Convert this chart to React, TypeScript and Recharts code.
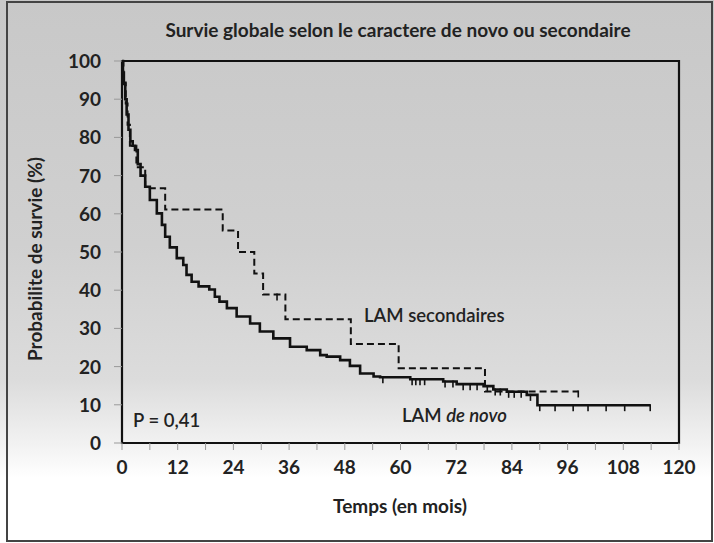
import { LineChart, Line, XAxis, YAxis, ReferenceArea } from "recharts";

// LAM de novo: steps (time in months, survival %)
const deNovoTime = [
  0, 0.2, 0.4, 0.7, 1, 1.4, 1.8, 2.3, 2.8, 3.4, 4, 5, 6, 7.5, 8.6, 9.3, 10.3,
  11.8, 13.2, 13.9, 15, 16.5, 18.8, 20, 21, 22.6, 24.7, 27.6, 29.7, 32.6, 36.2,
  39.8, 42.7, 44.1, 47, 49.1, 51.3, 54.2, 55.6, 62.1, 69.2, 72.1, 77.9, 80,
  82.9, 87.2, 89.5,
];
const deNovoSurv = [
  100, 97, 94, 90, 86, 82, 79, 77.8, 76.7, 73, 70, 67.1, 63.6, 60.1, 57.1, 54,
  51.2, 48.4, 46.6, 44, 42.2, 41, 40.2, 38.3, 37, 35.3, 33.1, 31.3, 29.2, 27.4,
  25.2, 24.3, 23, 22.6, 21.7, 20.2, 18.2, 17.4, 17.2, 16.7, 16.1, 15.4, 14.9,
  14, 13.4, 12.6, 9.9,
];
const deNovoCensor = [
  56.2, 62.5, 63.3, 64.2, 65.2, 69.6, 71.3, 73.5, 75, 76.5, 78.7, 80.4, 81.5,
  83.3, 84.5, 86, 88, 90, 93.3, 97.2, 100.4, 104.3, 108.3, 113.8,
];

// LAM secondaires
const secTime = [0, 0.3, 0.8, 1.2, 1.7, 3.1, 5, 9.3, 21.7, 25, 28.5, 30.4, 35.2, 49.3, 59.6, 78.2];
const secSurv = [100, 94.4, 88.9, 83.3, 77.8, 72.2, 66.7, 61.1, 55.6, 50, 44.4, 38.9, 32.4, 25.9, 19.6, 13.5];
const secCensor = [33.4, 98.3];

const xTicks = [0, 6, 12, 18, 24, 30, 36, 42, 48, 54, 60, 66, 72, 78, 84, 90, 96, 102, 108, 114, 120];
const yTicks = [0, 10, 20, 30, 40, 50, 60, 70, 80, 90, 100];

const FONT = "Lato, 'Open Sans', sans-serif";

function buildSeries(times: number[], surv: number[], censor: number[]) {
  const rows = times.map((t, i) => ({ t, s: surv[i], c: false }));
  censor.forEach((t) => {
    let s = surv[0];
    times.forEach((tt, i) => {
      if (tt <= t) s = surv[i];
    });
    rows.push({ t, s, c: true });
  });
  return rows.sort((a, b) => a.t - b.t);
}

const deNovoData = buildSeries(deNovoTime, deNovoSurv, deNovoCensor);
const secData = buildSeries(secTime, secSurv, secCensor);

const CensorDot = (props: any) => {
  const { cx, cy, payload } = props;
  if (!payload?.c || cx == null) return <g />;
  return <line x1={cx} x2={cx} y1={cy - 1} y2={cy + 6} stroke="#111" strokeWidth={1.6} />;
};

const XTick = (props: any) => {
  const { x, y, payload } = props;
  if (payload.value % 12 !== 0) return <g />;
  return (
    <text x={x} y={y + 22} textAnchor="middle" fontFamily={FONT} fontWeight={700} fontSize={19} fill="#222">
      {payload.value}
    </text>
  );
};

const YTick = (props: any) => {
  const { x, y, payload } = props;
  return (
    <text x={x} y={y + 7} textAnchor="end" fontFamily={FONT} fontWeight={700} fontSize={19} fill="#222">
      {payload.value}
    </text>
  );
};

export default function App() {
  return (
    <div
      style={{
        position: "relative",
        width: 714,
        height: 543,
        background: "linear-gradient(#c8c8c8 0%, #d0d0d0 45%, #dcdcdc 70%, #f2f2f2 82%, #ffffff 88%)",
        fontFamily: FONT,
        color: "#222",
        overflow: "hidden",
      }}
    >
      <style>{`body{margin:0}`}</style>
      <div
        style={{
          position: "absolute",
          left: 6,
          top: 1,
          width: 703,
          height: 537,
          border: "2px solid #444",
        }}
      />
      <div style={{ position: "absolute", top: 18, left: 0, width: 796, textAlign: "center", fontWeight: 700, fontSize: 19 }}>
        Survie globale selon le caractere de novo ou secondaire
      </div>
      <div
        style={{
          position: "absolute",
          left: 34,
          top: 259,
          transform: "translate(-50%, -50%) rotate(-90deg)",
          whiteSpace: "nowrap",
          fontWeight: 700,
          fontSize: 19,
        }}
      >
        Probabilite de survie (%)
      </div>
      <div style={{ position: "absolute", top: 494, left: 0, width: 800, textAlign: "center", fontWeight: 700, fontSize: 19 }}>
        Temps (en mois)
      </div>
      <div style={{ position: "absolute", left: 364, top: 304, fontSize: 18.5, fontWeight: 600 }}>LAM secondaires</div>
      <div style={{ position: "absolute", left: 402, top: 404, fontSize: 18.5, fontWeight: 600 }}>
        LAM <i>de novo</i>
      </div>
      <div style={{ position: "absolute", left: 133, top: 409, fontSize: 18.5, fontWeight: 600 }}>P = 0,41</div>
      <div style={{ position: "absolute", left: 0, top: 0 }}>
        <LineChart width={714} height={543} margin={{ top: 61, right: 35, left: 0, bottom: 0 }}>
          <XAxis
            type="number"
            dataKey="t"
            domain={[0, 120]}
            ticks={xTicks}
            allowDuplicatedCategory={false}
            axisLine={false}
            tickLine={{ stroke: "#999", strokeWidth: 1 }}
            tickSize={7}
            tick={<XTick />}
            height={100}
            interval={0}
          />
          <YAxis
            type="number"
            domain={[0, 100]}
            ticks={yTicks}
            axisLine={false}
            tickLine={{ stroke: "#999", strokeWidth: 1 }}
            tickSize={8}
            tickMargin={13}
            tick={<YTick />}
            width={122}
            interval={0}
          />
          <ReferenceArea x1={0} x2={120} y1={0} y2={100} fill="none" stroke="#111" strokeWidth={2.2} fillOpacity={0} />
          <Line
            data={secData}
            dataKey="s"
            type="stepAfter"
            stroke="#111"
            strokeWidth={2}
            strokeDasharray="7 4"
            dot={<CensorDot />}
            activeDot={false}
            isAnimationActive={false}
          />
          <Line
            data={deNovoData}
            dataKey="s"
            type="stepAfter"
            stroke="#111"
            strokeWidth={2.6}
            dot={<CensorDot />}
            activeDot={false}
            isAnimationActive={false}
          />
        </LineChart>
      </div>
    </div>
  );
}
